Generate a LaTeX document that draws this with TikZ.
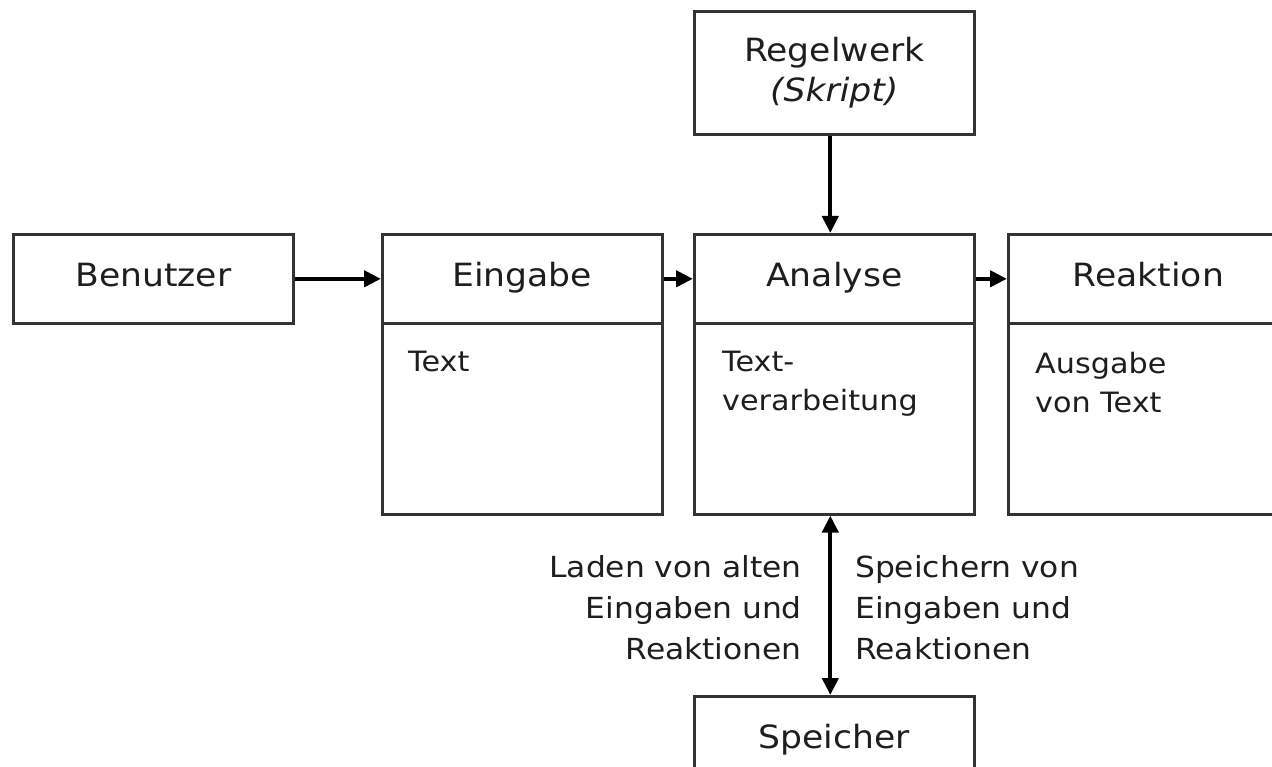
\documentclass[tikz,border=0pt]{standalone}
\usepackage{fontspec}
\setmainfont{DejaVu Sans}[FakeStretch=1.08]
\usetikzlibrary{arrows.meta}
\definecolor{ln}{HTML}{333333}
\definecolor{tx}{HTML}{1E1E1E}
\begin{document}
\begin{tikzpicture}[x=1pt,y=-1pt,
  box/.style={draw=ln,line width=2.6pt,inner sep=0pt,anchor=north west,
    minimum width=280pt,text=tx,font=\fontsize{32}{40}\selectfont},
  head/.style={box,minimum height=89pt,text height=23pt,text depth=8pt},
  body/.style={box,minimum height=191pt},
  bodytext/.style={anchor=north west,inner sep=0pt,align=left,text=tx,
    font=\fontsize{28}{39}\selectfont},
  lbl/.style={inner sep=0pt,text=tx,font=\fontsize{29}{41}\selectfont},
  arr/.style={line width=4.2pt,-{Triangle[length=17pt,width=16pt]}},
  darr/.style={line width=4.2pt,{Triangle[length=17pt,width=16pt]}-{Triangle[length=17pt,width=16pt]}}]
\useasboundingbox (0,0) rectangle (1272,767);
\fill[white] (0,0) rectangle (1272,767);
\begin{scope}
\clip (0,0) rectangle (1272,767);
% boxes
\node[head] (benutzer) at (12,233) {Benutzer};
\node[head] (eingabe) at (381,233) {Eingabe};
\node[body] (eingabeB) at (381,322) {};
\node[head] (analyse) at (693,233) {Analyse};
\node[body] (analyseB) at (693,322) {};
\node[head] (reaktion) at (1007,233) {Reaktion};
\node[body] (reaktionB) at (1007,322) {};
\node[box,minimum height=123pt,align=center] (regelwerk) at (693,10) {Regelwerk\\\textit{(Skript)}};
\node[head] (speicher) at (693,695) {Speicher};
% body texts
\node[bodytext] (t1) at (408,351) {Text};
\node[bodytext] (t2) at (722,351) {Text-\\verarbeitung};
\node[bodytext] (t3) at (1035,352) {Ausgabe\\von Text};
% arrows
\draw[arr] (benutzer.east) -- (eingabe.west);
\draw[arr] (eingabe.east) -- (analyse.west);
\draw[arr] (analyse.east) -- (reaktion.west);
\draw[arr] ([xshift=-4pt]regelwerk.south) -- ([xshift=-4pt]analyse.north);
\draw[darr] ([xshift=-4pt]analyseB.south) -- ([xshift=-4pt]speicher.north);
% labels
\node[lbl,anchor=north east,align=right] (lload) at (802,555) {Laden von alten\\Eingaben und\\Reaktionen};
\node[lbl,anchor=north west,align=left] (lsave) at (855,555) {Speichern von\\Eingaben und\\Reaktionen};
\end{scope}
\end{tikzpicture}
\end{document}
